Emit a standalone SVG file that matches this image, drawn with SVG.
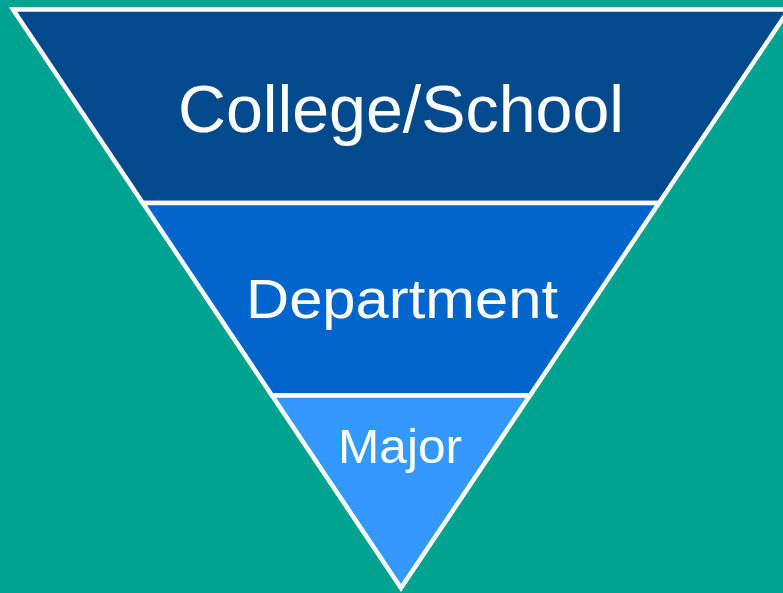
<svg xmlns="http://www.w3.org/2000/svg" width="783" height="593" viewBox="0 0 783 593">
<style>
.band{stroke:#FFFFFF;stroke-width:4.5;stroke-linejoin:miter;stroke-miterlimit:10}
.lbl{font-family:"Liberation Sans",Arial,sans-serif;fill:#FFFFFF;text-anchor:middle}
</style>
<rect width="783" height="593" fill="#00A390"/>
<g id="college">
<polygon class="band" fill="#034A8C" points="13,9.5 789,9.5 659,203 142.8,203"/>
<text class="lbl" x="401" y="132" font-size="66" textLength="446" lengthAdjust="spacingAndGlyphs">College/School</text>
</g>
<g id="department">
<polygon class="band" fill="#0066CC" points="142.8,203 659,203 530,395.5 272,395.5"/>
<text class="lbl" x="402" y="318" font-size="56" textLength="312" lengthAdjust="spacingAndGlyphs">Department</text>
</g>
<g id="major">
<polygon class="band" fill="#3399FF" points="272,395.5 530,395.5 401,588"/>
<text class="lbl" x="400" y="463" font-size="49" textLength="124" lengthAdjust="spacingAndGlyphs">Major</text>
</g>
<g id="connectors"/>
</svg>
